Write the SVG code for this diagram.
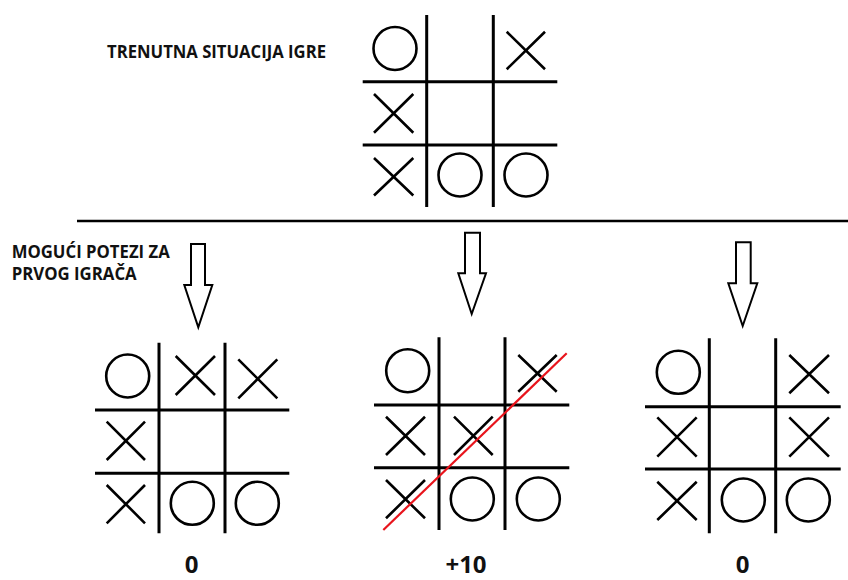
<svg xmlns="http://www.w3.org/2000/svg" width="848" height="580" viewBox="0 0 848 580">
<style>
.g{stroke:#000;stroke-width:3;fill:none;stroke-linecap:butt}
.x{stroke:#000;stroke-width:2.6;fill:none}
.o{stroke:#000;stroke-width:2.6;fill:none}
.ar{stroke:#000;stroke-width:2;fill:#fff;stroke-linejoin:miter}
.t{font-family:"Open Sans","Liberation Sans",sans-serif;font-weight:700;fill:#111}
</style>
<rect width="848" height="580" fill="#fff"/>

<g id="current-board">
  <path class="g" d="M426.7 15V207M493.3 15V207M362.7 81.7H557.3M362.7 145H557.3"/>
  <circle class="o" cx="395" cy="48.5" r="21.5"/>
  <path class="x" d="M506.7 31.7L545 69.3M545 31.7L506.7 69.3"/>
  <path class="x" d="M374 94L413.3 132.7M413.3 94L374 132.7"/>
  <path class="x" d="M374 158L413.3 195.5M413.3 158L374 195.5"/>
  <circle class="o" cx="460" cy="175" r="21.5"/>
  <circle class="o" cx="526" cy="175" r="21.5"/>
</g>

<g id="label-current">
  <text class="t" x="107" y="58" font-size="17.5" textLength="219" lengthAdjust="spacingAndGlyphs">TRENUTNA SITUACIJA IGRE</text>
</g>

<g id="separator">
  <line x1="77" y1="221" x2="848" y2="221" stroke="#000" stroke-width="2.6"/>
</g>

<g id="label-moves">
  <text class="t" x="11.7" y="257.5" font-size="17" textLength="158" lengthAdjust="spacingAndGlyphs">MOGUĆI POTEZI ZA</text>
  <text class="t" x="11.7" y="279.5" font-size="17" textLength="125" lengthAdjust="spacingAndGlyphs">PRVOG IGRAČA</text>
</g>

<g id="connectors">
  <path class="ar" d="M191 244H205V285H212.3L198.3 327.3L184.3 285H191Z"/>
  <path class="ar" d="M465 232.7H480V273.3H486L471.7 314L458.3 273.3H465Z"/>
  <path class="ar" d="M736 242.3H750.7V283.3H757.3L742.7 326L728.3 283.3H736Z"/>
</g>

<g id="board-left">
  <path class="g" d="M159 342.7V533.3M225 342.7V533.3M95 410H289.3M95 473.3H289.3"/>
  <circle class="o" cx="127.7" cy="376" r="21.5"/>
  <path class="x" d="M175.7 356L215 395M215 356L175.7 395"/>
  <path class="x" d="M238.3 359.3L277.3 398.3M277.3 359.3L238.3 398.3"/>
  <path class="x" d="M106.7 421.7L145 460M145 421.7L106.7 460"/>
  <path class="x" d="M106.7 485L145 523.3M145 485L106.7 523.3"/>
  <circle class="o" cx="192.3" cy="503.3" r="21.5"/>
  <circle class="o" cx="257.3" cy="503.3" r="21.5"/>
</g>

<g id="board-middle">
  <path class="g" d="M439 337.3V530M505 337.3V530M374 405H569.3M374 467.7H569.3"/>
  <circle class="o" cx="407.7" cy="370.7" r="21.5"/>
  <path class="x" d="M518.3 355L556.7 391.7M556.7 355L518.3 391.7"/>
  <path class="x" d="M386 416.7L425 455M425 416.7L386 455"/>
  <path class="x" d="M454 416.7L492.7 455M492.7 416.7L454 455"/>
  <path class="x" d="M386 480L425 518.3M425 480L386 518.3"/>
  <circle class="o" cx="472.3" cy="499" r="21.5"/>
  <circle class="o" cx="538.3" cy="499" r="21.5"/>
  <line x1="383.3" y1="530" x2="566.7" y2="353.3" stroke="#e8141c" stroke-width="2.2"/>
</g>

<g id="board-right">
  <path class="g" d="M709.3 338.3V533.3M775.7 338.3V533.3M645 406.7H840.7M645 469H840.7"/>
  <circle class="o" cx="678.3" cy="372.3" r="21.5"/>
  <path class="x" d="M789.3 355L829 393.3M829 355L789.3 393.3"/>
  <path class="x" d="M657.3 417.3L696.7 456.7M696.7 417.3L657.3 456.7"/>
  <path class="x" d="M789.3 417.3L829 456.7M829 417.3L789.3 456.7"/>
  <path class="x" d="M657.3 481.7L696.7 520M696.7 481.7L657.3 520"/>
  <circle class="o" cx="743.3" cy="500" r="21.5"/>
  <circle class="o" cx="808.3" cy="500" r="21.5"/>
</g>

<g id="scores">
  <text class="t" x="191.5" y="573" font-size="24" text-anchor="middle">0</text>
  <text class="t" x="466" y="573" font-size="24" text-anchor="middle">+10</text>
  <text class="t" x="742.5" y="573" font-size="24" text-anchor="middle">0</text>
</g>
</svg>
